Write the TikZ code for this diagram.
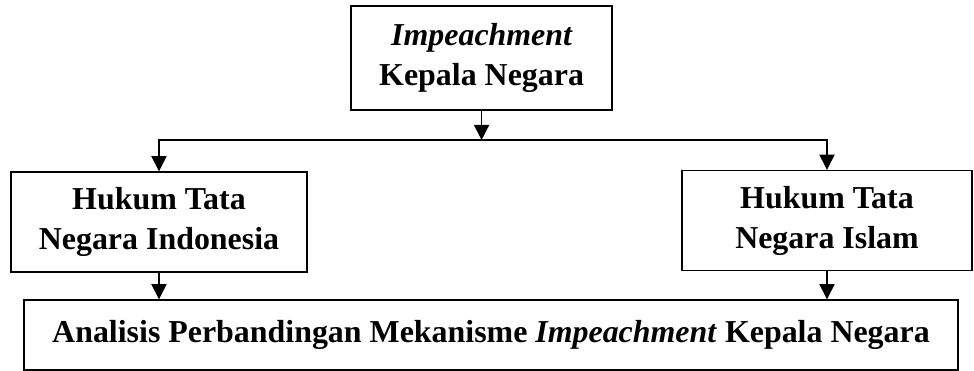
\documentclass[tikz,border=0pt]{standalone}
\usepackage{fontspec}
\setmainfont{Liberation Serif}
\usetikzlibrary{arrows.meta}
\begin{document}
\begin{tikzpicture}[>={Triangle[length=.38cm,width=.38cm]}, line width=1pt,
    kotak/.style={draw, align=center, inner sep=0pt,
        font=\fontsize{22.7}{28.5}\selectfont\bfseries}]
    \useasboundingbox (0,0) rectangle (24.35,-9.275);
    \node[kotak, minimum width=6.525cm, minimum height=2.6cm] (impeach) at (12.04,-1.45)
        {\itshape Impeachment\\Kepala Negara};
    \node[kotak, minimum width=7.4cm, minimum height=2.5cm] (htnindo) at (3.975,-5.55)
        {Hukum Tata\\Negara Indonesia};
    \node[kotak, minimum width=7.25cm, minimum height=2.5cm] (htnislam) at (20.675,-5.5125)
        {Hukum Tata\\Negara Islam};
    \node[kotak, minimum width=23.35cm, minimum height=1.75cm] (analisis) at (12.275,-8.375)
        {Analisis Perbandingan Mekanisme \textit{Impeachment} Kepala Negara};
    \coordinate (cabang) at (12.04,-3.5);
    \draw[->](impeach)--(cabang);
    \draw[->](cabang)-|(htnindo);
    \draw[->](cabang)-|(htnislam);
    \draw[->](htnindo)--(htnindo|-analisis.north);
    \draw[->](htnislam)--(htnislam|-analisis.north);
\end{tikzpicture}
\end{document}
